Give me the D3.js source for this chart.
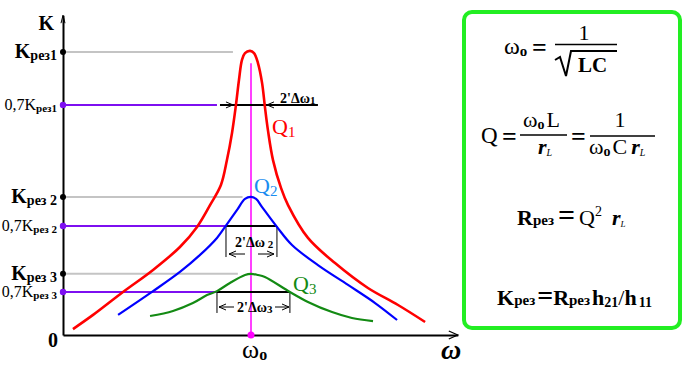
<!DOCTYPE html>
<html>
<head>
<meta charset="utf-8">
<script src="https://cdn.jsdelivr.net/npm/d3@7"></script>
<style>
  body { margin: 0; background: #fff; }
  svg { display: block; font-family: "Liberation Serif", "DejaVu Serif", serif; }
</style>
</head>
<body>
<div id="chart"></div>
<script>
// resonance curves, omega in units of omega0, K in % of Kрез1
const redPts = [[0.053, 2.1], [0.160, 7.1], [0.319, 15.2], [0.479, 23.0], [0.622, 31.1], [0.713, 38.2],
  [0.782, 45.9], [0.840, 53.0], [0.872, 61.8], [0.899, 71.4], [0.920, 81.3], [0.936, 90.1],
  [0.952, 97.2], [0.968, 99.6], [0.995, 100.4], [1.016, 99.6], [1.037, 96.1], [1.059, 89.0],
  [1.074, 80.6], [1.090, 72.4], [1.117, 61.8], [1.160, 51.9], [1.197, 45.9], [1.303, 34.3],
  [1.447, 25.4], [1.622, 16.6], [1.782, 10.6], [1.926, 4.6]];
const bluePts = [[0.293, 7.1], [0.479, 15.5], [0.622, 22.3], [0.729, 28.3], [0.819, 34.3], [0.862, 38.2],
  [0.926, 44.2], [0.968, 48.1], [1.000, 48.8], [1.027, 48.1], [1.059, 45.2], [1.138, 38.2],
  [1.218, 31.8], [1.356, 24.7], [1.516, 17.7], [1.660, 11.3], [1.777, 5.3]];
const greenPts = [[0.463, 6.7], [0.585, 8.5], [0.691, 11.3], [0.766, 14.1], [0.819, 15.5], [0.888, 18.4],
  [0.968, 21.2], [1.000, 21.6], [1.037, 21.2], [1.074, 20.5], [1.207, 15.2], [1.303, 11.7],
  [1.431, 8.1], [1.537, 6.0], [1.649, 4.9]];

const resValues = [100, 48.8, 21.6];        // Kрез1, Kрез2, Kрез3
const resLineEnd = [0.904, 0.955, 0.93];     // where the grey guide stops
const bandValues = [81.3, 38.5, 15.2];       // 0,7Kрез levels (as drawn)
const bandLo = [0.835, 0.867, 0.819];
const bandHi = [1.356, 1.138, 1.207];
const purpleEnd = [0.819, 0.867, 0.819];
const resIdx = ["1", "2", "3"];

const W = 695, H = 367;
const x = d3.scaleLinear().domain([0, 2.1]).range([63, 457.8]);
const y = d3.scaleLinear().domain([0, 113]).range([335, 15.2]);

const svg = d3.select("#chart").append("svg")
  .attr("width", W).attr("height", H);

// guide lines
svg.selectAll(".gray").data(resValues).enter().append("line")
  .attr("x1", x(0)).attr("x2", (d, i) => x(resLineEnd[i]))
  .attr("y1", d => y(d)).attr("y2", d => y(d))
  .attr("stroke", "#c4c4c4").attr("stroke-width", 2);

svg.selectAll(".purple").data(bandValues).enter().append("line")
  .attr("x1", x(0)).attr("x2", (d, i) => x(purpleEnd[i]))
  .attr("y1", d => y(d)).attr("y2", d => y(d))
  .attr("stroke", "#7d0ff0").attr("stroke-width", 2);

// omega0 marker
svg.append("line")
  .attr("x1", x(1)).attr("x2", x(1)).attr("y1", y(96)).attr("y2", y(0))
  .attr("stroke", "#ff00ff").attr("stroke-width", 1.5);

// bandwidth brackets
const black = "#000";
function chevron(px, py, dir) {
  // open arrow head, dir = 1 points right, -1 points left
  svg.append("path")
    .attr("d", `M${px - dir * 7},${py - 3} L${px},${py} L${px - dir * 7},${py + 3}`)
    .attr("fill", "none").attr("stroke", black).attr("stroke-width", 1);
}
function arrow(x1, x2, py) {
  svg.append("line").attr("x1", x1).attr("x2", x2).attr("y1", py).attr("y2", py)
    .attr("stroke", black).attr("stroke-width", 1);
  chevron(x2, py, x2 > x1 ? 1 : -1);
}

// red: line with inward arrows
svg.append("line").attr("x1", x(bandLo[0])).attr("x2", x(bandHi[0]))
  .attr("y1", y(bandValues[0])).attr("y2", y(bandValues[0]))
  .attr("stroke", black).attr("stroke-width", 2);
chevron(x(0.92) - 3, y(bandValues[0]), 1);
chevron(x(1.069) + 3, y(bandValues[0]), -1);

// blue and green: bracket with verticals
[1, 2].forEach(i => {
  const yy = y(bandValues[i]);
  const drop = i === 1 ? 31 : 21;
  svg.append("line").attr("x1", x(bandLo[i])).attr("x2", x(bandHi[i]))
    .attr("y1", yy).attr("y2", yy).attr("stroke", black).attr("stroke-width", 2);
  [bandLo[i], bandHi[i]].forEach(v => {
    svg.append("line").attr("x1", x(v)).attr("x2", x(v))
      .attr("y1", yy).attr("y2", yy + drop).attr("stroke", black).attr("stroke-width", 1);
  });
});
arrow(245, 229, 254);
arrow(258, 274, 254);
arrow(234, 219, 307);
arrow(275, 289, 307);

// curves
const line = d3.line().x(d => x(d[0])).y(d => y(d[1])).curve(d3.curveCatmullRom.alpha(0.5));
svg.append("path").datum(redPts).attr("d", line)
  .attr("fill", "none").attr("stroke", "#ff0000").attr("stroke-width", 2.6);
svg.append("path").datum(bluePts).attr("d", line)
  .attr("fill", "none").attr("stroke", "#0000ff").attr("stroke-width", 2.2);
svg.append("path").datum(greenPts).attr("d", line)
  .attr("fill", "none").attr("stroke", "#138a13").attr("stroke-width", 2.2);

// axes
svg.append("g").attr("transform", `translate(${x(0)},0)`)
  .call(d3.axisLeft(y).tickValues([]).tickSizeOuter(0))
  .select(".domain").attr("stroke-width", 2);
svg.append("g").attr("transform", `translate(0,${y(0)})`)
  .call(d3.axisBottom(x).tickValues([]).tickSizeOuter(0))
  .select(".domain").attr("stroke-width", 2);
svg.append("path").attr("d", `M${x(0) - 2},${y(113) + 8} L${x(0)},${y(113)} L${x(0) + 2},${y(113) + 8}`)
  .attr("fill", "none").attr("stroke", black).attr("stroke-width", 1);
svg.append("path").attr("d", `M${x(2.1) - 9},${y(0) - 4} L${x(2.1)},${y(0)} L${x(2.1) - 9},${y(0) + 4}`)
  .attr("fill", "none").attr("stroke", black).attr("stroke-width", 1.2);

// level dots
svg.selectAll(".rdot").data(resValues).enter().append("circle")
  .attr("cx", x(0)).attr("cy", d => y(d)).attr("r", 3).attr("fill", black);
svg.selectAll(".bdot").data(bandValues).enter().append("circle")
  .attr("cx", x(0)).attr("cy", d => y(d)).attr("r", 3.2).attr("fill", "#7d0ff0");
svg.append("circle").attr("cx", x(1)).attr("cy", y(0)).attr("r", 3.5).attr("fill", "#ff00ff");

// left labels
svg.append("text").attr("x", 54).attr("y", 30).attr("text-anchor", "end")
  .attr("font-size", 20).attr("font-weight", "bold").text("K");
resValues.forEach((v, i) => {
  const t = svg.append("text").attr("x", 57).attr("y", y(v) + 6).attr("text-anchor", "end")
    .attr("font-weight", "bold");
  t.append("tspan").attr("font-size", 20).text("K");
  t.append("tspan").attr("font-size", 14).attr("dy", 2).text("рез" + (i ? " " : "") + resIdx[i]);
});
bandValues.forEach((v, i) => {
  const t = svg.append("text").attr("x", 57).attr("y", y(v) + 5).attr("text-anchor", "end");
  t.append("tspan").attr("font-size", 16).text("0,7K");
  t.append("tspan").attr("font-size", 11).attr("font-weight", "bold").attr("dy", 2)
    .text("рез" + (i ? " " : "") + resIdx[i]);
});
svg.append("text").attr("x", 58).attr("y", 347).attr("text-anchor", "end")
  .attr("font-size", 20).attr("font-weight", "bold").text("0");

// curve labels
function qLabel(px, py, col, n) {
  const t = svg.append("text").attr("x", px).attr("y", py).attr("fill", col).attr("font-size", 22);
  t.append("tspan").text("Q");
  t.append("tspan").attr("font-size", 15).attr("dy", 3).text(n);
}
qLabel(272, 134, "#ff0000", "1");
qLabel(254, 193, "#1a8cf0", "2");
qLabel(293, 291, "#138a13", "3");

// bandwidth labels
function bwLabel(px, py, n) {
  const t = svg.append("text").attr("x", px).attr("y", py).attr("font-size", 14)
    .attr("font-weight", "bold");
  t.append("tspan").text("2'Δω");
  t.append("tspan").attr("font-size", 11).attr("dy", 1).text(n);
}
bwLabel(280, 103, "1");
bwLabel(235, 247, " 2");
bwLabel(237, 312, "3");

// omega labels
const w0 = svg.append("text").attr("x", 242).attr("y", 358).attr("font-size", 26);
w0.append("tspan").text("ω");
w0.append("tspan").attr("font-size", 16).attr("font-weight", "bold").attr("dy", 2).text("o");
svg.append("text").attr("x", 441).attr("y", 359).attr("font-size", 28)
  .attr("font-style", "italic").attr("font-weight", "bold").text("ω");

// formula box
svg.append("rect").attr("x", 464).attr("y", 12).attr("width", 216).attr("height", 316)
  .attr("rx", 8).attr("fill", "none").attr("stroke", "#22ee22").attr("stroke-width", 4);

const f1 = svg.append("text").attr("x", 504).attr("y", 54).attr("font-size", 24);
f1.append("tspan").text("ω");
f1.append("tspan").attr("font-size", 15).attr("font-weight", "bold").attr("dy", 2).text("o");
svg.append("text").attr("x", 532).attr("y", 56).attr("font-size", 26).attr("font-weight", "bold").text("=");
svg.append("text").attr("x", 584).attr("y", 40).attr("text-anchor", "middle").attr("font-size", 22).text("1");
svg.append("line").attr("x1", 555).attr("x2", 617).attr("y1", 44.5).attr("y2", 44.5)
  .attr("stroke", black).attr("stroke-width", 1.5);
svg.append("path").attr("d", "M555,60 L560,57 L566,76 L571,51 L617,51")
  .attr("fill", "none").attr("stroke", black).attr("stroke-width", 2);
svg.append("text").attr("x", 578).attr("y", 72).attr("font-size", 21).attr("font-weight", "bold").text("LC");

svg.append("text").attr("x", 481).attr("y", 143).attr("font-size", 23).text("Q");
svg.append("text").attr("x", 502).attr("y", 145).attr("font-size", 26).attr("font-weight", "bold").text("=");
const n1 = svg.append("text").attr("x", 523).attr("y", 127).attr("font-size", 22);
n1.append("tspan").text("ω");
n1.append("tspan").attr("font-size", 14).attr("font-weight", "bold").attr("dy", 2).text("o");
n1.append("tspan").attr("dy", -2).attr("dx", 2).text("L");
svg.append("line").attr("x1", 520).attr("x2", 567).attr("y1", 135).attr("y2", 135)
  .attr("stroke", black).attr("stroke-width", 1.5);
const d1 = svg.append("text").attr("x", 538).attr("y", 154).attr("font-size", 22)
  .attr("font-weight", "bold").attr("font-style", "italic");
d1.append("tspan").text("r");
d1.append("tspan").attr("font-size", 10).attr("font-weight", "normal").attr("dy", 2).text("L");
svg.append("text").attr("x", 571).attr("y", 145).attr("font-size", 26).attr("font-weight", "bold").text("=");
svg.append("text").attr("x", 620).attr("y", 127).attr("text-anchor", "middle").attr("font-size", 22).text("1");
svg.append("line").attr("x1", 590).attr("x2", 655).attr("y1", 136).attr("y2", 136)
  .attr("stroke", black).attr("stroke-width", 1.5);
const d2 = svg.append("text").attr("x", 589).attr("y", 154).attr("font-size", 22);
d2.append("tspan").text("ω");
d2.append("tspan").attr("font-size", 14).attr("font-weight", "bold").attr("dy", 2).text("o");
d2.append("tspan").attr("dy", -2).attr("dx", 2).text("C");
d2.append("tspan").attr("dx", 4).attr("font-weight", "bold").attr("font-style", "italic").text("r");
d2.append("tspan").attr("font-size", 10).attr("font-style", "italic").attr("dy", 2).text("L");

const f3 = svg.append("text").attr("x", 517).attr("y", 225).attr("font-size", 22).attr("font-weight", "bold");
f3.append("tspan").text("R");
f3.append("tspan").attr("font-size", 15).text("рез");
f3.append("tspan").attr("font-size", 30).attr("dx", 4).text("=");
f3.append("tspan").attr("dx", 4).attr("font-weight", "normal").text("Q");
f3.append("tspan").attr("font-size", 14).attr("font-weight", "normal").attr("dy", -9).text("2");
f3.append("tspan").attr("dy", 9).attr("dx", 10).attr("font-style", "italic").text("r");
f3.append("tspan").attr("font-size", 9).attr("font-style", "italic").attr("font-weight", "normal")
  .attr("dy", 2).text("L");

const f4 = svg.append("text").attr("x", 497).attr("y", 305).attr("font-size", 22).attr("font-weight", "bold");
f4.append("tspan").text("K");
f4.append("tspan").attr("font-size", 15).text("рез");
f4.append("tspan").attr("font-size", 28).attr("dx", 2).text("=");
f4.append("tspan").text("R");
f4.append("tspan").attr("font-size", 15).text("рез");
f4.append("tspan").attr("dx", 2).text("h");
f4.append("tspan").attr("font-size", 14).attr("dy", 2).text("21");
f4.append("tspan").attr("font-size", 22).attr("font-weight", "normal").attr("dy", -2).text("/");
f4.append("tspan").text("h");
f4.append("tspan").attr("font-size", 14).attr("dy", 2).attr("dx", 2).text("11");
</script>
</body>
</html>
